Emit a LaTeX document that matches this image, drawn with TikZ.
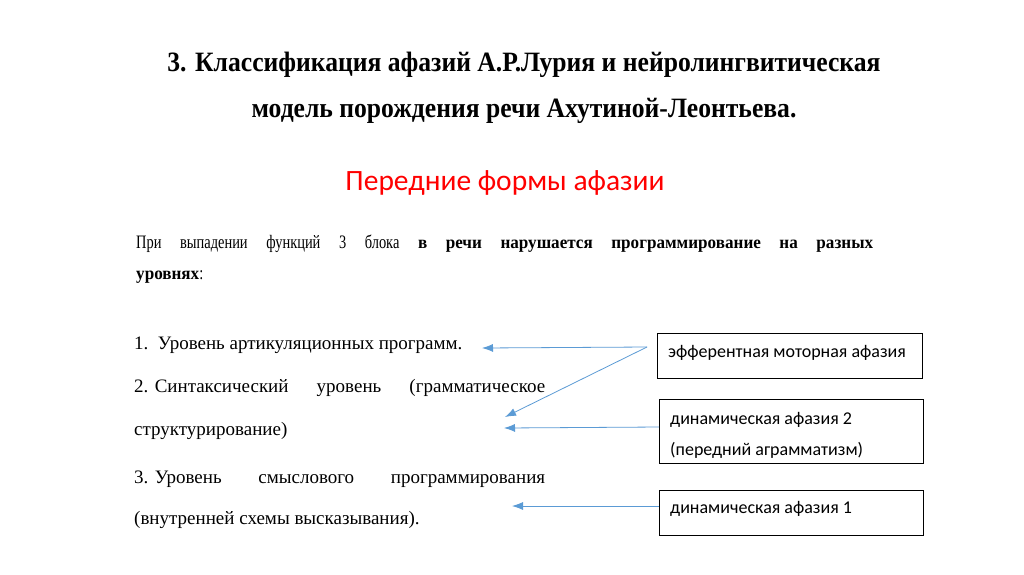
\documentclass[tikz,border=0pt]{standalone}
\usepackage{fontspec}
\setmainfont{Liberation Serif}
\newfontfamily\titlefont[FakeStretch=0.915]{Liberation Serif}
\newfontfamily\parafont[FakeStretch=0.76]{Liberation Serif}
\newfontfamily\parabold[FakeStretch=0.95]{Liberation Serif}
\newfontfamily\calfont{Carlito}
\usetikzlibrary{arrows.meta}
\definecolor{arrowblue}{HTML}{5B9BD5}
\definecolor{headred}{HTML}{FF0000}
\tikzset{
  title/.style={font=\titlefont\bfseries\fontsize{28}{30}\selectfont, inner sep=0pt, anchor=base},
  subtitle/.style={font=\calfont\fontsize{29.5}{32}\selectfont, text=headred, inner sep=0pt, anchor=base},
  para/.style={font=\parafont\fontsize{19}{21}\selectfont, inner sep=0pt, anchor=base west},
  item/.style={font=\fontsize{19}{21}\selectfont, inner sep=0pt, anchor=base west},
  aphbox/.style={draw=black, line width=0.9pt, inner sep=0pt, anchor=north west},
  boxtext/.style={font=\calfont\fontsize{18}{20}\selectfont, inner sep=0pt, anchor=base west},
  link/.style={draw=arrowblue, line width=0.8pt, -{Latex[length=11pt,width=8pt]}}
}
\newcommand{\bw}[1]{{\parabold\bfseries\fontsize{18}{20}\selectfont #1}}
\begin{document}
\begin{tikzpicture}[x=1pt,y=-1pt]
\useasboundingbox (0,0) rectangle (1024,574);
\fill[white] (0,0) rectangle (1024,574);
% titles
\node[title] (t1) at (524,71) {3. Классификация афазий А.Р.Лурия и нейролингвитическая};
\node[title] (t2) at (524,117) {модель порождения речи Ахутиной-Леонтьева.};
\node[subtitle] (st) at (505,190) {Передние формы афазии};
% paragraph
\node[para] (p1) at (136,248) {\makebox[737pt][s]{При выпадении функций 3 блока \bw{в} \bw{речи} \bw{нарушается} \bw{программирование} \bw{на} \bw{разных}}};
\node[para] (p2) at (136,279) {\bw{уровнях}:};
% list
\node[item] (l1) at (134,349) {1.\ \ Уровень артикуляционных программ.};
\node[item] (l2) at (134,392) {\makebox[411pt]{2. Синтаксический\hfill уровень\hfill (грамматическое}};
\node[item] (l2b) at (134,435) {структурирование)};
\node[item] (l3) at (134,483) {\makebox[411pt]{3. Уровень\hfill смыслового\hfill программирования}};
\node[item] (l3b) at (134,524) {(внутренней схемы высказывания).};
% boxes
\node[aphbox, minimum width=265pt, minimum height=45pt] (b1) at (657,333) {};
\node[aphbox, minimum width=264pt, minimum height=64pt] (b2) at (659,399) {};
\node[aphbox, minimum width=264pt, minimum height=45pt] (b3) at (659,490) {};
\node[boxtext] (b1t) at (668,357) {эфферентная моторная афазия};
\node[boxtext] (b2t) at (670,424) {динамическая афазия 2};
\node[boxtext] (b2u) at (670,455) {(передний аграмматизм)};
\node[boxtext] (b3t) at (670,513) {динамическая афазия 1};
% arrow ends
\coordinate (s1) at (647,347);
\coordinate (e1) at (482,348);
\coordinate (e2) at (505,417);
\coordinate (s3) at (b2.west |- 0,427);
\coordinate (e3) at (504,428);
\coordinate (s4) at (b3.west |- 0,506);
\coordinate (e4) at (512,506);
\draw[link] (s1) -- (e1);
\draw[link] (s1) -- (e2);
\draw[link] (s3) -- (e3);
\draw[link] (s4) -- (e4);
\end{tikzpicture}
\end{document}
